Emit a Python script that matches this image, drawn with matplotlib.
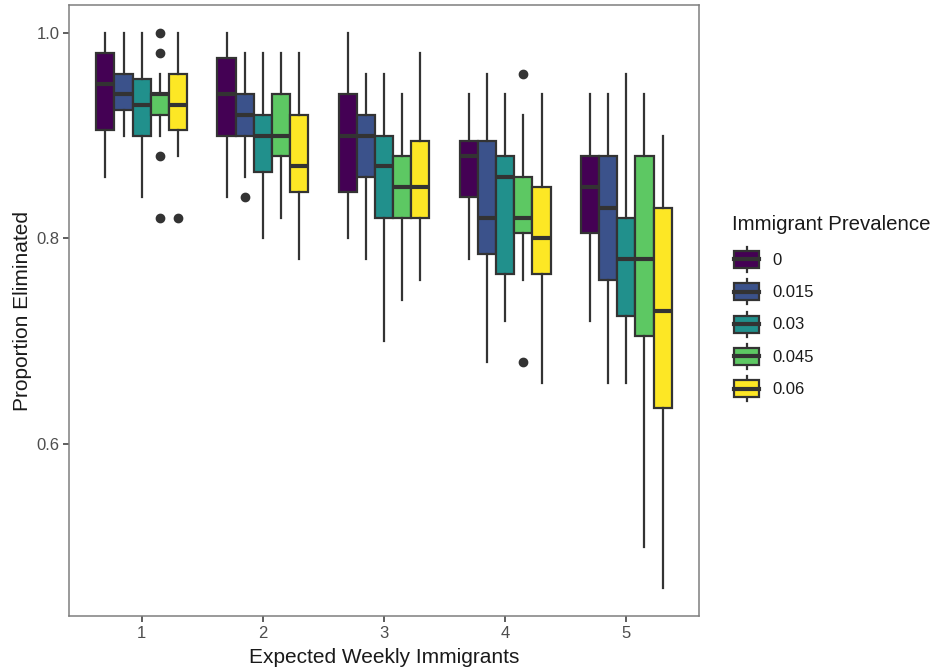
import matplotlib
matplotlib.use("Agg")
import matplotlib.pyplot as plt
from matplotlib.patches import Rectangle
from matplotlib.lines import Line2D
from matplotlib.legend_handler import HandlerBase

plt.rcParams['font.family'] = ['Liberation Sans', 'DejaVu Sans']

# ---------------- data ----------------
groups = [1, 2, 3, 4, 5]
prevalence = ["0", "0.015", "0.03", "0.045", "0.06"]
colors = ["#440154", "#3B528B", "#21908C", "#5DC863", "#FDE725"]

# rows = expected weekly immigrants (1..5), columns = prevalence levels
whisker_low = [
    [0.86, 0.90, 0.84, 0.90, 0.88],
    [0.84, 0.86, 0.80, 0.82, 0.78],
    [0.80, 0.78, 0.70, 0.74, 0.76],
    [0.78, 0.68, 0.72, 0.76, 0.66],
    [0.72, 0.66, 0.66, 0.50, 0.46],
]
q1 = [
    [0.905, 0.925, 0.90, 0.92, 0.905],
    [0.90, 0.90, 0.865, 0.88, 0.845],
    [0.845, 0.86, 0.82, 0.82, 0.82],
    [0.84, 0.785, 0.765, 0.805, 0.765],
    [0.805, 0.76, 0.725, 0.705, 0.635],
]
median = [
    [0.95, 0.94, 0.93, 0.94, 0.93],
    [0.94, 0.92, 0.90, 0.90, 0.87],
    [0.90, 0.90, 0.87, 0.85, 0.85],
    [0.88, 0.82, 0.86, 0.82, 0.80],
    [0.85, 0.83, 0.78, 0.78, 0.73],
]
q3 = [
    [0.98, 0.96, 0.955, 0.94, 0.96],
    [0.975, 0.94, 0.92, 0.94, 0.92],
    [0.94, 0.92, 0.90, 0.88, 0.895],
    [0.895, 0.895, 0.88, 0.86, 0.85],
    [0.88, 0.88, 0.82, 0.88, 0.83],
]
whisker_high = [
    [1.00, 1.00, 1.00, 0.96, 1.00],
    [1.00, 0.98, 0.98, 0.98, 0.98],
    [1.00, 0.96, 0.96, 0.94, 0.98],
    [0.94, 0.96, 0.94, 0.92, 0.94],
    [0.94, 0.94, 0.96, 0.94, 0.90],
]
outliers = [
    [[], [], [], [1.00, 0.98, 0.88, 0.82], [0.82]],
    [[], [0.84], [], [], []],
    [[], [], [], [], []],
    [[], [], [], [0.96, 0.68], []],
    [[], [], [], [], []],
]

# ---------------- plot ----------------
W, H = 935, 667
fig = plt.figure(figsize=(W / 100, H / 100), dpi=100)
ax = fig.add_axes([69 / W, 1 - 616 / H, 630 / W, 611 / H])

line_c = "#333333"
dodge = 0.15
for gi, g in enumerate(groups):
    for j in range(len(prevalence)):
        pos = g + (j - 2) * dodge
        st = dict(whislo=whisker_low[gi][j], q1=q1[gi][j], med=median[gi][j],
                  q3=q3[gi][j], whishi=whisker_high[gi][j], fliers=outliers[gi][j])
        ax.bxp([st], positions=[pos], widths=dodge, patch_artist=True,
               showcaps=False, manage_ticks=False,
               boxprops=dict(facecolor=colors[j], edgecolor=line_c, linewidth=1.6),
               whiskerprops=dict(color=line_c, linewidth=1.6),
               medianprops=dict(color=line_c, linewidth=3.0, solid_capstyle='butt'),
               flierprops=dict(marker='o', markerfacecolor=line_c, markeredgecolor=line_c,
                               markersize=6, linestyle='none'))

ax.set_xlim(0.4, 5.6)
ax.set_ylim(0.433, 1.027)
ax.set_xticks(groups)
ax.set_xticklabels([str(g) for g in groups])
ax.set_yticks([0.6, 0.8, 1.0])
ax.set_yticklabels(["0.6", "0.8", "1.0"])
ax.tick_params(axis='both', colors=line_c, labelcolor="#4D4D4D", labelsize=12,
               length=4, width=1.1, pad=3)
for s in ax.spines.values():
    s.set_color("#7F7F7F")
    s.set_linewidth(1.1)
ax.set_xlabel("Expected Weekly Immigrants", fontsize=15, color="#1A1A1A", labelpad=5)
ax.set_ylabel("Proportion Eliminated", fontsize=15, color="#1A1A1A", labelpad=3)


class BoxHandler(HandlerBase):
    def create_artists(self, legend, orig_handle, xdescent, ydescent, width, height,
                       fontsize, trans):
        fc = orig_handle.get_facecolor()
        x0, y0 = -xdescent, -ydescent
        stub = height * 0.16
        bh = height - 2 * stub
        rect = Rectangle((x0, y0 + stub), width, bh, facecolor=fc, edgecolor=line_c,
                         linewidth=1.6, transform=trans)
        med = Line2D([x0, x0 + width], [y0 + height / 2] * 2, color=line_c,
                     linewidth=3.0, transform=trans)
        w1 = Line2D([x0 + width / 2] * 2, [y0, y0 + stub], color=line_c,
                    linewidth=1.6, transform=trans)
        w2 = Line2D([x0 + width / 2] * 2, [y0 + height - stub, y0 + height],
                    color=line_c, linewidth=1.6, transform=trans)
        return [w1, w2, rect, med]


fig.text(732 / W, 1 - 225 / H, "Immigrant Prevalence", fontsize=14.7,
         color="#1A1A1A", ha='left', va='center')
handles = [Rectangle((0, 0), 1, 1, facecolor=c) for c in colors]
leg = fig.legend(handles, prevalence, loc='upper left',
                 bbox_to_anchor=(734 / W, 1 - 247 / H),
                 fontsize=12, frameon=False, handler_map={Rectangle: BoxHandler()},
                 handlelength=1.5, handleheight=1.93, labelspacing=0.44,
                 handletextpad=0.8, borderpad=0, borderaxespad=0)
for t in leg.get_texts():
    t.set_color("#1A1A1A")

fig.savefig("out.png", dpi=100, facecolor="white")
